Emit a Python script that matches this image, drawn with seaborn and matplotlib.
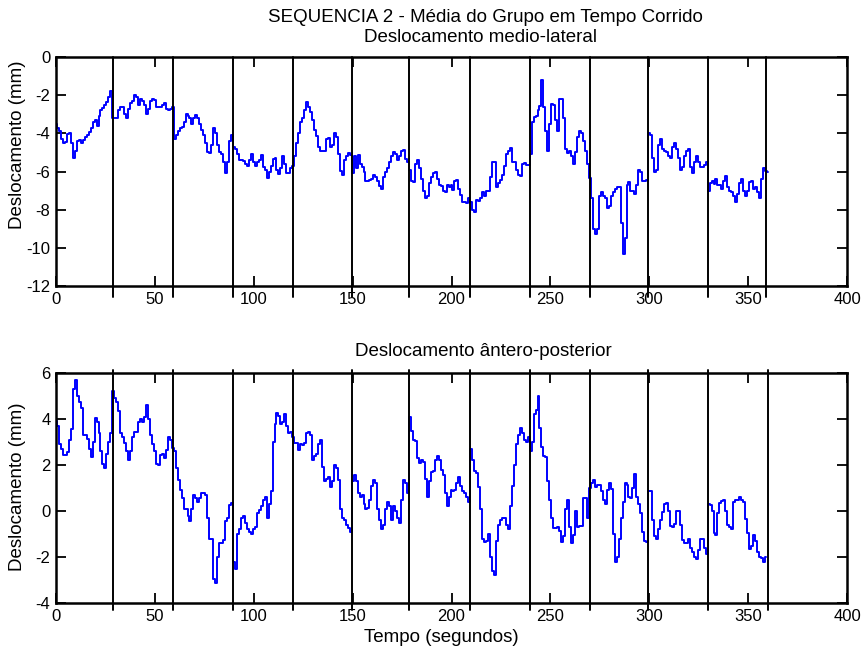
import numpy as np
import pandas as pd
import matplotlib
matplotlib.use("Agg")
import matplotlib.pyplot as plt
import seaborn as sns

# ---------------- data ----------------
titulo = "SEQUENCIA 2 - Média do Grupo em Tempo Corrido"
titulo_ml = "Deslocamento medio-lateral"
titulo_ap = "Deslocamento ântero-posterior"
rotulo_y = "Deslocamento (mm)"
rotulo_x = "Tempo (segundos)"

# medio-lateral displacement, one value per second (t = 0 .. 360 s)
ml_valores = [
    -3.5, -3.7, -3.9, -4.3, -4.5, -4.45, -4.05, -4.0, -4.5, -5.3, -4.9, -4.4, -4.35, -4.5, -4.35,
    -4.2, -4.1, -3.95, -3.7, -3.4, -3.3, -3.6, -3.1, -2.8, -2.65, -2.5, -2.35, -2.1, -1.8,
    -3.2, -3.2, -3.2, -2.8, -2.6, -2.6, -3.0, -3.2, -2.7, -2.4, -2.3, -2.0, -2.1, -2.5, -2.2,
    -2.3, -2.5, -3.0, -2.7, -2.3, -2.2, -2.25, -2.6, -2.6, -2.6, -2.5, -2.4, -2.7, -2.8, -2.7, -2.6,
    -4.3, -4.1, -3.9, -3.7, -3.65, -3.4, -3.0, -3.1, -3.2, -3.5, -3.2, -3.05, -3.2, -3.5, -3.8,
    -4.1, -4.5, -5.0, -5.05, -4.6, -3.7, -4.0, -4.6, -5.0, -5.1, -5.5, -6.1, -5.5, -4.4, -4.1,
    -4.7, -4.8, -5.1, -5.4, -5.4, -5.45, -5.6, -5.7, -5.4, -5.1, -5.5, -5.7, -5.5, -5.4, -5.15,
    -5.75, -5.9, -6.35, -6.0, -5.7, -5.35, -5.3, -5.9, -6.15, -5.8, -5.2, -5.6, -6.1, -6.1, -5.8, -5.7,
    -5.2, -4.5, -4.0, -3.4, -3.2, -2.8, -2.35, -2.6, -2.9, -3.3, -3.8, -4.15, -4.7, -4.9, -4.9,
    -4.9, -4.3, -4.25, -4.7, -4.6, -4.0, -4.2, -5.1, -5.95, -6.2, -5.4, -5.2, -5.05, -5.15,
    -6.1, -5.2, -5.8, -5.15, -5.6, -5.75, -6.0, -6.5, -6.5, -6.45, -6.4, -6.2, -6.3, -6.5, -6.75,
    -6.9, -6.3, -6.05, -5.8, -5.5, -5.2, -5.0, -5.1, -5.4, -5.2, -4.9, -4.85, -5.35, -5.5,
    -5.9, -6.5, -6.55, -5.6, -5.4, -5.8, -6.4, -7.0, -7.4, -7.3, -6.6, -6.3, -6.1, -6.0, -6.4,
    -6.7, -6.75, -7.0, -7.05, -6.7, -6.8, -6.7, -6.95, -6.5, -6.45, -6.9, -7.25, -7.6, -7.6, -7.65, -7.4,
    -7.6, -8.0, -8.1, -7.5, -7.55, -7.4, -7.05, -7.3, -7.0, -7.0, -6.3, -5.5, -5.5, -6.8, -6.6,
    -6.45, -6.2, -5.7, -5.1, -4.9, -4.75, -5.5, -5.5, -5.9, -6.2, -6.25, -5.6, -5.55, -5.65, -5.65,
    -5.1, -3.4, -3.15, -3.1, -2.8, -2.55, -1.2, -2.6, -3.9, -4.95, -3.5, -2.45, -2.5, -3.3, -3.9,
    -2.2, -2.2, -3.2, -4.8, -5.05, -4.9, -5.2, -5.6, -5.0, -4.2, -3.9, -4.0, -4.4, -4.9, -5.6,
    -6.35, -7.4, -9.0, -9.25, -9.0, -7.3, -7.05, -7.3, -7.4, -7.9, -7.8, -7.3, -7.1, -6.9, -6.8,
    -6.8, -8.7, -10.3, -9.5, -6.7, -6.55, -7.0, -7.0, -7.2, -6.7, -5.9, -6.0, -6.5, -6.5, -6.45,
    -4.0, -4.1, -5.3, -6.0, -5.9, -4.6, -4.3, -4.8, -4.9, -5.0, -5.2, -5.3, -4.7, -4.5, -4.8,
    -5.3, -5.9, -5.75, -5.2, -4.9, -4.8, -5.75, -6.1, -5.5, -5.2, -5.5, -5.75, -5.75, -5.65, -5.5,
    -7.0, -6.6, -6.5, -6.65, -6.4, -6.7, -6.7, -6.9, -6.5, -6.25, -6.8, -7.0, -7.1, -7.3, -7.6,
    -7.2, -6.6, -6.4, -7.0, -7.3, -7.0, -6.55, -6.5, -6.9, -6.8, -7.1, -7.4, -6.4, -5.8, -5.95, -6.0,
]

# antero-posterior displacement, one value per second (t = 0 .. 359 s)
ap_valores = [
    3.9, 3.7, 2.9, 2.7, 2.45, 2.45, 2.55, 3.1, 3.55, 5.3, 5.7, 5.0, 4.75, 4.5, 3.3,
    3.3, 3.15, 2.7, 2.35, 3.0, 4.05, 3.85, 3.4, 2.6, 2.05, 1.85, 2.5, 3.0, 3.4,
    5.2, 4.9, 4.75, 4.35, 3.4, 3.2, 2.95, 2.6, 2.2, 2.6, 3.2, 3.45, 3.45, 3.85, 4.0,
    3.85, 4.1, 4.6, 4.0, 3.3, 2.9, 2.6, 2.05, 2.0, 2.45, 2.5, 2.3, 2.65, 3.2, 3.1, 2.75,
    2.6, 1.85, 1.35, 0.9, 0.55, 0.1, 0.1, -0.2, -0.45, 0.1, 0.7, 0.55, 0.4, 0.55, 0.77,
    0.77, 0.7, -0.3, -1.2, -1.2, -2.95, -3.15, -2.0, -1.4, -1.4, -1.25, -0.45, -0.3, 0.25, 0.35,
    -2.2, -2.5, -1.0, -0.8, -0.3, -0.2, -0.5, -0.8, -0.9, -1.0, -0.8, -0.7, -0.1, 0.05, 0.2,
    0.5, 0.6, -0.3, 0.3, 0.85, 3.0, 3.8, 4.25, 4.15, 3.8, 3.85, 4.2, 3.7, 3.4, 3.45, 3.2,
    2.95, 2.95, 2.65, 2.9, 2.85, 2.95, 3.4, 3.45, 3.3, 2.2, 2.4, 2.5, 2.9, 3.1, 1.9,
    1.3, 1.4, 1.5, 1.05, 1.3, 2.0, 1.85, 1.35, 0.1, -0.3, -0.4, -0.6, -0.75, -0.9,
    1.3, 1.55, 1.3, 0.8, 0.6, 0.7, 0.3, 0.1, 0.15, 0.5, 1.1, 1.35, 1.2, 0.1, -0.4,
    -0.8, -0.6, 0.1, 0.4, 0.2, -0.4, 0.2, 0.0, -0.3, -0.5, 0.5, 1.35, 1.2, 0.8,
    4.1, 3.5, 3.1, 3.05, 2.3, 2.1, 2.2, 2.15, 1.4, 0.6, 1.3, 1.7, 1.75, 2.2, 2.4,
    2.2, 1.8, 1.55, 0.8, 0.2, 0.6, 0.9, 0.85, 0.9, 1.2, 1.5, 1.1, 0.85, 0.8, 0.6, 0.4,
    2.7, 2.2, 1.75, 1.65, 1.05, 0.1, -1.2, -1.35, -1.3, -1.0, -2.0, -2.6, -2.8, -1.3, -0.6,
    -0.4, -0.3, -0.3, -0.6, -0.8, 0.2, 1.1, 2.0, 2.9, 3.3, 3.6, 3.4, 3.1, 3.0, 3.2,
    2.6, 3.0, 4.2, 4.4, 5.0, 3.6, 2.8, 2.4, 2.35, 1.3, 0.5, -0.3, -0.75, -0.75, -0.7,
    -0.85, -1.35, -1.1, 0.1, 0.5, -0.7, -1.4, -1.05, 0.0, -0.7, -0.65, -0.65, 0.55, 0.55, -0.3,
    1.0, 1.2, 1.35, 1.05, 1.15, 1.15, 0.85, 0.5, 0.3, 0.9, 1.2, 0.95, -1.0, -2.2, -2.0,
    -1.2, -0.3, 0.4, 1.2, 1.15, 0.6, 0.55, 1.0, 1.6, 0.6, 0.3, -0.1, -0.9, -1.3, -1.35,
    0.85, 0.85, -0.4, -1.1, -1.2, -0.8, -0.4, -0.05, 0.3, 0.35, 0.0, -0.65, -0.7, -0.55, 0.0,
    0.0, -0.6, -1.25, -1.4, -1.4, -1.2, -1.6, -1.8, -2.0, -2.1, -1.7, -1.2, -1.2, -1.6, -1.85,
    0.3, 0.25, 0.0, -0.95, -1.05, -0.1, 0.35, 0.45, 0.5, 0.0, -0.6, -0.7, -0.8, 0.4, 0.5,
    0.5, 0.6, 0.5, 0.4, -0.35, -0.95, -1.65, -1.5, -1.05, -1.3, -1.8, -2.0, -2.05, -2.2, -2.0,
]

# trial boundaries (s)
limites_ml = [29.0, 59.3, 89.7, 120.0, 149.6, 178.7, 209.2, 239.6, 269.8, 299.5, 329.7, 359.0]
limites_ap = [29.0, 59.3, 89.7, 120.0, 149.6, 178.7, 209.2, 239.6, 269.8, 299.5, 329.7, 360.0]

x_ticks = [0, 50, 100, 150, 200, 250, 300, 350, 400]
y_ticks_ml = [-12, -10, -8, -6, -4, -2, 0]
y_ticks_ap = [-4, -2, 0, 2, 4, 6]

# ---------------- style ----------------
sns.set_theme(style="ticks")
FAM = ["Liberation Sans", "DejaVu Sans"]
plt.rcParams["font.family"] = FAM
FS_TICK = 12
FS_TXT = 13.5

W, H = 866, 655
fig = plt.figure(figsize=(W / 100, H / 100), dpi=100)
fig.patch.set_facecolor("white")


def px_axes(left, top, right, bottom):
    return fig.add_axes([left / W, 1 - bottom / H, (right - left) / W, (bottom - top) / H])


ax1 = px_axes(56, 57, 847, 286)
ax2 = px_axes(56, 373, 847, 603)

df_ml = pd.DataFrame({"t": np.arange(len(ml_valores)), "v": ml_valores})
df_ap = pd.DataFrame({"t": np.arange(len(ap_valores)), "v": ap_valores})

for ax, df, lims, ylim, yt, below, above in [
    (ax1, df_ml, limites_ml, (-12, 0), y_ticks_ml, -0.05, 1.0),
    (ax2, df_ap, limites_ap, (-4, 6), y_ticks_ap, -0.03, 1.013),
]:
    ax.set_facecolor("white")
    sns.lineplot(data=df, x="t", y="v", ax=ax, color=(0, 0, 1), lw=1.4,
                 drawstyle="steps-mid", estimator=None, sort=False, zorder=2)
    for b in lims:
        ax.axvline(b, ymin=below, ymax=above, color="black", lw=1.4,
                   clip_on=False, zorder=3)
    ax.set_xlim(0, 400)
    ax.set_ylim(*ylim)
    ax.set_xticks(x_ticks)
    ax.set_yticks(yt)
    ax.set_xticklabels([str(v) for v in x_ticks])
    ax.set_yticklabels([str(v) for v in yt])
    ax.tick_params(direction="in", length=7, width=1.3, top=True, right=True,
                   labelsize=FS_TICK, colors="black", pad=4)
    for s in ax.spines.values():
        s.set_visible(True)
        s.set_color("black")
        s.set_linewidth(1.8)
        s.set_zorder(4)
    ax.set_xlabel("")
    ax.set_ylabel("")

# texts
fig.text(485 / W, 1 - 17 / H, titulo, ha="center", va="center", fontsize=FS_TXT, color="black")
fig.text(481 / W, 1 - 38 / H, titulo_ml, ha="center", va="center", fontsize=FS_TXT, color="black")
fig.text(483 / W, 1 - 352 / H, titulo_ap, ha="center", va="center", fontsize=FS_TXT, color="black")
fig.text(441 / W, 1 - 637 / H, rotulo_x, ha="center", va="center", fontsize=FS_TXT, color="black")
fig.text(18 / W, 1 - 145 / H, rotulo_y, ha="center", va="center", rotation=90, fontsize=FS_TXT, color="black")
fig.text(18 / W, 1 - 487 / H, rotulo_y, ha="center", va="center", rotation=90, fontsize=FS_TXT, color="black")

fig.savefig("out.png", dpi=100, facecolor="white")
